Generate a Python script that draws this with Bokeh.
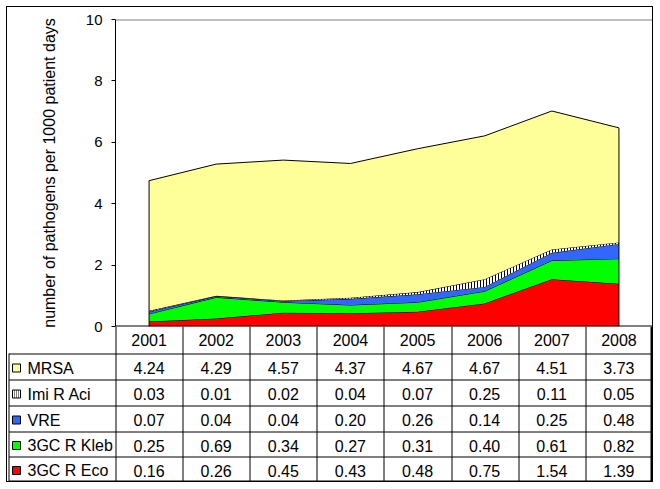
from bokeh.plotting import figure
from bokeh.models import Range1d, FactorRange, FixedTicker, Span
from bokeh.layouts import column
from bokeh.core.properties import value
from bokeh.embed import file_html
from bokeh.resources import INLINE
import numpy as np

# ---------------- data ----------------
years = ["2001", "2002", "2003", "2004", "2005", "2006", "2007", "2008"]
mrsa = [4.24, 4.29, 4.57, 4.37, 4.67, 4.67, 4.51, 3.73]
imi_r_aci = [0.03, 0.01, 0.02, 0.04, 0.07, 0.25, 0.11, 0.05]
vre = [0.07, 0.04, 0.04, 0.20, 0.26, 0.14, 0.25, 0.48]
kleb = [0.25, 0.69, 0.34, 0.27, 0.31, 0.40, 0.61, 0.82]
eco = [0.16, 0.26, 0.45, 0.43, 0.48, 0.75, 1.54, 1.39]
series_names = ["MRSA", "Imi R Aci", "VRE", "3GC R Kleb", "3GC R Eco"]
y_ticks = [0, 2, 4, 6, 8, 10]
y_title = "number of pathogens per 1000 patient days"

# ---------------- styles ----------------
FONT_NAME = "Liberation Sans"
FONT = value(FONT_NAME)
FS = "15px"
FS_TABLE = "16px"
colors = {"MRSA": "#FFFF99", "Imi R Aci": "#FFFFFF", "VRE": "#3366FF",
          "3GC R Kleb": "#00FF00", "3GC R Eco": "#FF0000"}
hatch = {"Imi R Aci": "vertical_line"}
table_series = [mrsa, imi_r_aci, vre, kleb, eco]

W = 645
LABEL_W = 108
COL_W = (W - LABEL_W) / len(years)
OVERLAP = 10

# ---------------- chart ----------------
p = figure(width=W, height=319 + OVERLAP, x_range=FactorRange(*years), y_range=Range1d(0, 10),
           output_backend="svg", toolbar_location=None, x_axis_location=None,
           min_border_left=LABEL_W, min_border_right=0, min_border_top=12,
           min_border_bottom=OVERLAP)
p.frame_align = False
p.outline_line_color = None
p.grid.visible = False
p.background_fill_color = "white"
p.border_fill_color = "white"

stack_order = [("3GC R Eco", eco), ("3GC R Kleb", kleb), ("VRE", vre),
               ("Imi R Aci", imi_r_aci), ("MRSA", mrsa)]
lower = np.zeros(len(years))
for name, vals in stack_order:
    upper = lower + np.array(vals)
    kw = {}
    if name in hatch:
        kw = dict(hatch_pattern=hatch[name], hatch_color="black", hatch_scale=3, hatch_weight=1)
    p.varea(x=years, y1=lower, y2=upper, fill_color=colors[name], **kw)
    p.line(x=years, y=upper, line_color="black", line_width=1)
    lower = upper
total = lower
p.segment(x0=[years[0], years[-1]], y0=[0, 0], x1=[years[0], years[-1]],
          y1=[total[0], total[-1]], line_color="black", line_width=1)

p.add_layout(Span(location=10, dimension="width", line_color="#808080", line_width=2))
p.add_layout(Span(location=0, dimension="width", line_color="black", line_width=2))

ax = p.yaxis[0]
ax.ticker = FixedTicker(ticks=y_ticks)
ax.axis_line_color = "black"
ax.major_tick_line_color = "black"
ax.major_tick_out = 4
ax.major_tick_in = 0
ax.minor_tick_line_color = None
ax.major_label_text_font = FONT_NAME
ax.major_label_text_font_size = FS
ax.major_label_text_color = "black"
ax.major_label_standoff = 9
ax.axis_label = y_title
ax.axis_label_text_font = FONT_NAME
ax.axis_label_text_font_size = "16px"
ax.axis_label_text_font_style = "normal"
ax.axis_label_text_color = "black"
ax.axis_label_standoff = 25

# ---------------- table ----------------
H = 155
row_bounds = [0, 27, 53, 79, 105, 130, 155]
TEXT_DY = 1.5
t = figure(width=W, height=H, x_range=Range1d(0, W), y_range=Range1d(H, 0),
           output_backend="svg", toolbar_location=None, x_axis_location=None,
           y_axis_location=None, min_border=0, margin=(-OVERLAP, 0, 0, 0))
t.frame_align = False
t.outline_line_color = None
t.grid.visible = False
t.background_fill_color = None
t.border_fill_color = None

col_edges = [round(LABEL_W + i * COL_W) + 0.5 for i in range(len(years))]
col_centers = [LABEL_W + (i + 0.5) * COL_W for i in range(len(years))]
row_centers = [(row_bounds[i] + row_bounds[i + 1]) / 2 for i in range(len(row_bounds) - 1)]

# vertical lines
t.segment(x0=col_edges, y0=[0] * len(col_edges), x1=col_edges, y1=[H] * len(col_edges),
          line_color="black", line_width=1)
t.segment(x0=[W - 1], y0=[0], x1=[W - 1], y1=[H], line_color="black", line_width=2)
t.segment(x0=[1.5], y0=[row_bounds[1]], x1=[1.5], y1=[H], line_color="black", line_width=1)
# horizontal lines
hy = [b + 0.5 for b in row_bounds[1:-1]]
t.segment(x0=[1.5] * len(hy), y0=hy, x1=[W] * len(hy), y1=hy, line_color="black", line_width=1)
t.segment(x0=[1.5], y0=[H - 0.5], x1=[W], y1=[H - 0.5], line_color="black", line_width=1)

# header years
t.text(x=col_centers, y=[row_centers[0]] * len(years), text=years, text_font=FONT,
       text_font_size=FS_TABLE, text_align="center", text_baseline="middle", text_color="black")

for r, (name, vals) in enumerate(zip(series_names, table_series)):
    yc = row_centers[r + 1] + TEXT_DY
    t.text(x=col_centers, y=[yc] * len(vals), text=["%.2f" % v for v in vals], text_font=FONT,
           text_font_size=FS_TABLE, text_align="center", text_baseline="middle",
           text_color="black")
    kw = {}
    if name in hatch:
        kw = dict(hatch_pattern=hatch[name], hatch_color="black", hatch_scale=2, hatch_weight=1)
    t.rect(x=[9], y=[yc], width=8, height=8, fill_color=colors[name], line_color="black",
           line_width=1, **kw)
    t.text(x=[20], y=[yc], text=[name], text_font=FONT, text_font_size=FS_TABLE,
           text_align="left", text_baseline="middle", text_color="black")

layout = column(p, t, styles={"border": "1px solid black"}, margin=(6, 0, 0, 6))
open("out.html", "w").write(file_html(layout, INLINE))
